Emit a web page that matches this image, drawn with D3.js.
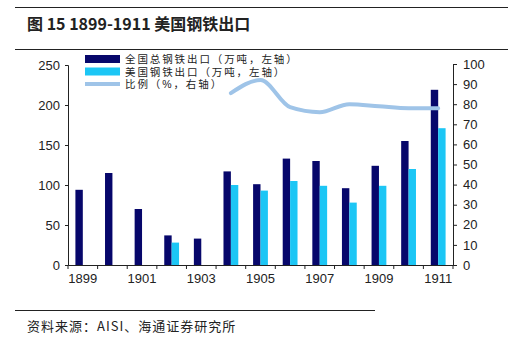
<!DOCTYPE html>
<html><head><meta charset="utf-8">
<script src="https://cdn.jsdelivr.net/npm/d3@7"></script>
<style>body{margin:0;background:#fff}svg{display:block}</style>
</head><body>
<svg id="c" width="526" height="342"></svg>
<script>
const years = [1899,1900,1901,1902,1903,1904,1905,1906,1907,1908,1909,1910,1911];
const totalExports = [94,115,70,37,33,117,101,133,130,96,124,155,219];
const usExports = [null,null,null,28,null,100,93,105,99,78,99,120,171];
const ratioYears = [1904,1905,1906,1907,1908,1909,1910,1911];
const ratio = [85.5,92,78.5,76,80,79,78,78];
const leftTicks = [0,50,100,150,200,250];
const rightTicks = [0,10,20,30,40,50,60,70,80,90,100];
const xLabels = [1899,1901,1903,1905,1907,1909,1911];
const legendLabels = ["全国总钢铁出口（万吨，左轴）","美国钢铁出口（万吨，左轴）","比例（%，右轴）"];

const svg = d3.select("#c");
const L = 68, R = 453, T = 65, B = 265;
const x = d3.scaleBand().domain(years).range([L, R]);
const yL = d3.scaleLinear().domain([0,250]).range([B, T]);
const yR = d3.scaleLinear().domain([0,100]).range([B, T - 1]);
const navy = "#07076b", cyan = "#1cc6f5", lineC = "#9fc4e8";
const font = "'Liberation Sans', Arial, sans-serif";
const cjk = "'Noto Sans CJK SC', sans-serif";
const mixed = "'Liberation Sans', 'Noto Sans CJK SC', sans-serif";

// title + rules
svg.append("line").attr("x1",15).attr("x2",508).attr("y1",7.5).attr("y2",7.5).attr("stroke","#222").attr("stroke-width",1.2);
svg.append("line").attr("x1",15).attr("x2",508).attr("y1",49.5).attr("y2",49.5).attr("stroke","#222").attr("stroke-width",1.2);
svg.append("text").attr("x",27).attr("y",30).attr("font-family",cjk).attr("font-size",16).attr("font-weight","bold").attr("fill","#222").text("图 15 1899-1911 美国钢铁出口");

// bars
const bw = 7.4;
const g = svg.append("g");
g.selectAll(".t").data(years).enter().append("rect")
  .attr("x", (d)=> x(d) + x.bandwidth()/2 - bw)
  .attr("width", bw)
  .attr("y", (d,i)=> yL(totalExports[i]))
  .attr("height", (d,i)=> B - yL(totalExports[i]))
  .attr("fill", navy);
g.selectAll(".u").data(years.filter((d,i)=>usExports[i]!=null)).enter().append("rect")
  .attr("x", d=> x(d) + x.bandwidth()/2)
  .attr("width", bw)
  .attr("y", d=> yL(usExports[years.indexOf(d)]))
  .attr("height", d=> B - yL(usExports[years.indexOf(d)]))
  .attr("fill", cyan);

// ratio line
const line = d3.line().x((d,i)=> x(ratioYears[i]) + x.bandwidth()/2).y(d=> yR(d)).curve(d3.curveMonotoneX);
svg.append("path").attr("d", line(ratio)).attr("fill","none").attr("stroke",lineC).attr("stroke-width",4).attr("stroke-linecap","round");

// axes
const axL = svg.append("g").attr("transform",`translate(${L},0)`).call(d3.axisLeft(yL).tickValues(leftTicks).tickSize(3).tickPadding(5));
const axR = svg.append("g").attr("transform",`translate(${R},0)`).call(d3.axisRight(yR).tickValues(rightTicks).tickSize(4).tickPadding(6));
const axB = svg.append("g").attr("transform",`translate(0,${B})`).call(
  d3.axisBottom(x).tickValues(xLabels).tickSize(0).tickPadding(9));
// band boundary ticks
svg.append("g").selectAll("line").data(years.concat(["end"])).enter().append("line")
  .attr("x1",(d,i)=> L + i*x.step()).attr("x2",(d,i)=> L + i*x.step())
  .attr("y1",B).attr("y2",B+4).attr("stroke","#222");
[axL,axR,axB].forEach(a=>{
  a.select(".domain").attr("stroke","#222");
  a.selectAll(".tick line").attr("stroke","#222");
  a.selectAll("text").attr("font-family",font).attr("font-size",13).attr("fill","#222");
});

// legend
const lg = svg.append("g");
const ly = [59, 71.5, 84];
lg.append("rect").attr("x",85).attr("y",ly[0]-4).attr("width",35).attr("height",8).attr("fill",navy);
lg.append("rect").attr("x",85).attr("y",ly[1]-4).attr("width",35).attr("height",8).attr("fill",cyan);
lg.append("line").attr("x1",85).attr("x2",120).attr("y1",ly[2]).attr("y2",ly[2]).attr("stroke",lineC).attr("stroke-width",4);
lg.selectAll("text").data(legendLabels).enter().append("text")
  .attr("x",125).attr("y",(d,i)=> ly[i]+4)
  .attr("font-family",mixed).attr("font-size",10.5).attr("letter-spacing",1.9).attr("fill","#222").text(d=>d);

// footer
svg.append("line").attr("x1",15).attr("x2",375).attr("y1",310.5).attr("y2",310.5).attr("stroke","#222").attr("stroke-width",1);
svg.append("text").attr("x",27).attr("y",331).attr("font-family",cjk).attr("font-size",13).attr("letter-spacing",1).attr("fill","#222").text("资料来源：AISI、海通证券研究所");
</script>
</body></html>
